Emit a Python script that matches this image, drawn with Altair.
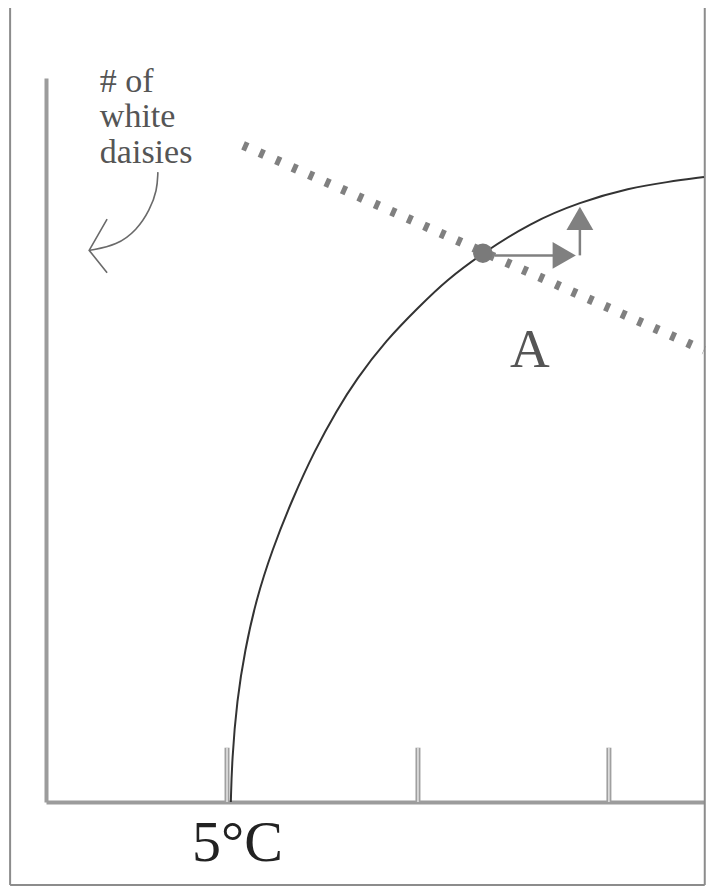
import altair as alt
import pandas as pd

# ---- values ----
# response curve: temperature (x) vs number of white daisies (y)
curve_x = [5.10, 5.13, 5.26, 5.47, 5.76, 6.18, 6.70, 7.30, 7.88, 8.37, 9.17, 10.02,
           10.75, 11.70, 12.93, 14.24, 15.55, 16.52, 17.49]
curve_y = [0.0, 5.80, 14.09, 20.99, 27.90, 34.81, 41.71, 48.62, 54.14, 58.29, 63.81, 68.37,
           72.10, 75.83, 79.97, 82.87, 84.81, 85.64, 86.33]

# hatched (dashed) line
dash_x = [5.42, 17.49]
dash_y = [90.7, 62.4]

# equilibrium point A
point_x = [11.70]
point_y = [75.8]

# perturbation arrows (horizontal then vertical)
arrow_h_x = [12.01, 13.70]
arrow_h_y = [75.5, 75.5]
arrow_v_x = [14.24, 14.24]
arrow_v_y = [75.5, 80.0]
head_x = [13.83, 14.24]
head_y = [75.5, 80.6]
head_shape = ["triangle-right", "triangle-up"]

# curved pointer from the label to the y axis
pointer_x = [3.19, 3.17, 2.98, 2.64, 2.12, 1.41]
pointer_y = [87.0, 84.5, 81.8, 79.0, 76.9, 76.2]
chevron_x = [1.86, 1.39, 1.86]
chevron_y = [80.5, 76.2, 73.1]

# labels
label_lines = ["# of", "white", "daisies"]
label_x = [1.67, 1.67, 1.67]
label_y = [98.1, 93.2, 88.2]
a_text = ["A"]
a_x = [12.93]
a_y = [60.1]

# x axis ticks
tick_values = [5, 10, 15]
tick_labels = ["5°C", "", ""]
tick_top = 7.5

# outer frame (data units)
frame_x = [-0.68, 17.51]
frame_y = [-11.46, 110.8]

X_DOMAIN = [0.26, 17.49]
Y_DOMAIN = [0, 100]

# ---- chart ----
label_expr = " : ".join(
    [f"datum.value == {v} ? '{l}'" for v, l in zip(tick_values, tick_labels)] + ["''"]
)

xscale = alt.Scale(domain=X_DOMAIN, nice=False, zero=False)
yscale = alt.Scale(domain=Y_DOMAIN, nice=False, zero=False)
xaxis = alt.Axis(
    values=tick_values, labelExpr=label_expr, title=None, ticks=False, grid=False,
    domainColor="#9c9c9c", domainWidth=4, labelFont="Liberation Serif",
    labelFontSize=58, labelColor="#222222", labelPadding=12, labelOffset=10,
)
yaxis = alt.Axis(title=None, labels=False, ticks=False, grid=False,
                 domainColor="#9c9c9c", domainWidth=4)


def enc(chart, xf="x", yf="y", **kw):
    return chart.encode(
        x=alt.X(f"{xf}:Q", scale=xscale, axis=xaxis),
        y=alt.Y(f"{yf}:Q", scale=yscale, axis=yaxis),
        **kw,
    )


def df(xs, ys, **extra):
    d = pd.DataFrame({"x": xs, "y": ys})
    d["i"] = range(len(d))
    for k, v in extra.items():
        d[k] = v
    return d


curve = enc(alt.Chart(df(curve_x, curve_y)).mark_line(
    color="#333333", strokeWidth=2, interpolate="basis"), order="i:O")

dashed = enc(alt.Chart(df(dash_x, dash_y)).mark_line(
    color="#808080", strokeWidth=9, strokeDash=[5, 13], strokeCap="butt"), order="i:O")

dot = enc(alt.Chart(df(point_x, point_y)).mark_point(
    filled=True, color="#7a7a7a", size=380, opacity=1))

arrow_h = enc(alt.Chart(df(arrow_h_x, arrow_h_y)).mark_line(
    color="#808080", strokeWidth=2.5), order="i:O")
arrow_v = enc(alt.Chart(df(arrow_v_x, arrow_v_y)).mark_line(
    color="#808080", strokeWidth=2.5), order="i:O")
heads = enc(alt.Chart(df(head_x, head_y, shape=head_shape)).mark_point(
    filled=True, color="#808080", size=720, opacity=1),
    shape=alt.Shape("shape:N", scale=None, legend=None))

pointer = enc(alt.Chart(df(pointer_x, pointer_y)).mark_line(
    color="#6a6a6a", strokeWidth=1.6, interpolate="basis"), order="i:O")
chevron = enc(alt.Chart(df(chevron_x, chevron_y)).mark_line(
    color="#6a6a6a", strokeWidth=1.6), order="i:O")

labels = enc(alt.Chart(df(label_x, label_y, t=label_lines)).mark_text(
    font="Liberation Serif", fontSize=34, color="#555555", align="left",
    baseline="alphabetic"), text="t:N")

a_label = enc(alt.Chart(df(a_x, a_y, t=a_text)).mark_text(
    font="Liberation Serif", fontSize=55, color="#555555", align="center",
    baseline="alphabetic"), text="t:N")

ticks = alt.Chart(pd.DataFrame({"x": tick_values, "y0": 0, "y1": tick_top})).mark_rule(
    color="#a0a0a0", strokeWidth=5).encode(
    x=alt.X("x:Q", scale=xscale, axis=xaxis),
    y=alt.Y("y0:Q", scale=yscale, axis=yaxis),
    y2="y1:Q",
)
ticks_inner = alt.Chart(pd.DataFrame({"x": tick_values, "y0": 0, "y1": tick_top})).mark_rule(
    color="#e6e6e6", strokeWidth=1.5).encode(
    x=alt.X("x:Q", scale=xscale, axis=xaxis),
    y=alt.Y("y0:Q", scale=yscale, axis=yaxis),
    y2="y1:Q",
)

frame_v = alt.Chart(pd.DataFrame({"x": frame_x, "y0": frame_y[0], "y1": frame_y[1]})).mark_rule(
    color="#8c8c8c", strokeWidth=2).encode(
    x=alt.X("x:Q", scale=xscale, axis=xaxis),
    y=alt.Y("y0:Q", scale=yscale, axis=yaxis),
    y2="y1:Q",
)
frame_h = alt.Chart(pd.DataFrame({"x0": [frame_x[0]], "x1": [frame_x[1]], "y": [frame_y[0]]})).mark_rule(
    color="#8c8c8c", strokeWidth=2).encode(
    x=alt.X("x0:Q", scale=xscale, axis=xaxis),
    x2="x1:Q",
    y=alt.Y("y:Q", scale=yscale, axis=yaxis),
)

chart = alt.layer(
    frame_v, frame_h, ticks, ticks_inner, curve, dashed, dot, arrow_h, arrow_v, heads,
    pointer, chevron, labels, a_label,
).properties(
    width=658, height=724,
    autosize=alt.AutoSizeParams(type="none"),
    padding={"left": 38, "top": 70, "right": 2, "bottom": 88},
    background="white",
).configure_view(stroke=None)

chart.save("out.html", embed_options={"renderer": "svg", "actions": False})
